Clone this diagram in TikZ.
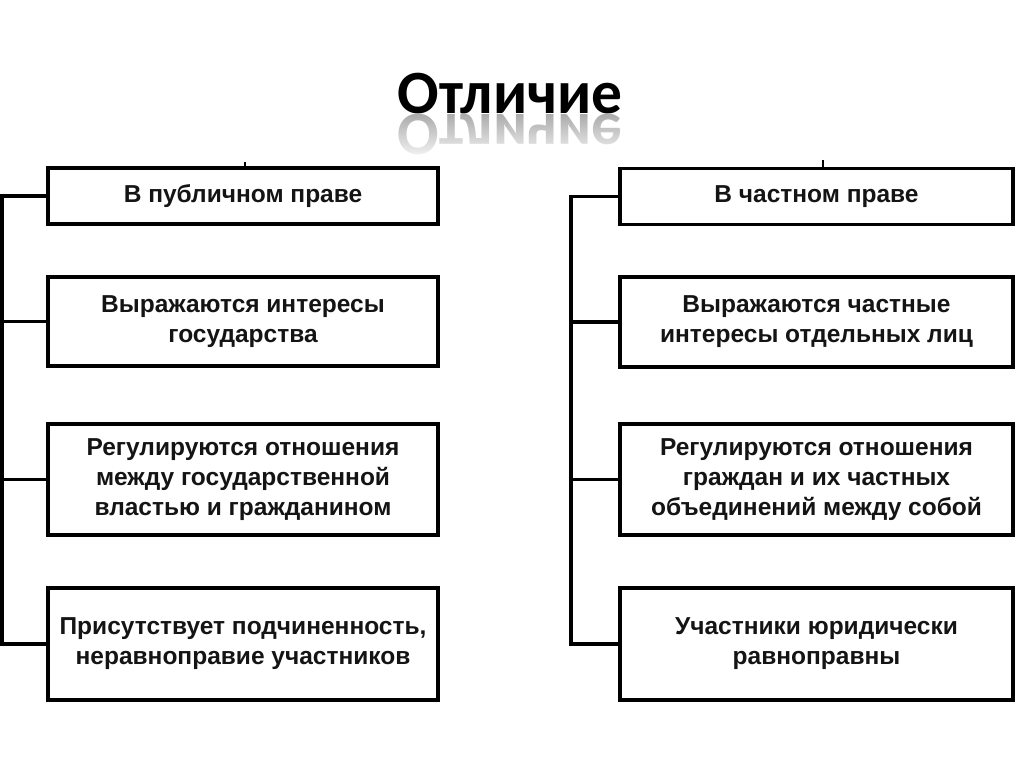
\documentclass[tikz,border=0pt]{standalone}
\usepackage{fontspec}
\setmainfont{Liberation Sans}
\newfontfamily\titlefont{Carlito}
\usetikzlibrary{fadings}
\tikzfading[name=reflfade, top color=transparent!100, middle color=transparent!0, bottom color=transparent!0]
\tikzset{
  box/.style={draw=black, line width=3.2pt, rectangle, align=center,
    font=\fontsize{24.5}{30}\selectfont\bfseries, text=black!92, inner sep=0pt},
  lbox/.style={box, minimum width=390pt},
  rbox/.style={box, minimum width=393pt},
  conn/.style={draw=black, line width=3.2pt},
}
\begin{document}
\begin{tikzpicture}[x=1pt,y=-1pt]
\useasboundingbox (0,0) rectangle (1024,767);
% title
\node[font=\titlefont\fontsize{61.5}{64}\selectfont\bfseries, anchor=base, inner sep=0pt] (title) at (510,114) {Отличие};
\node[font=\titlefont\fontsize{61.5}{64}\selectfont\bfseries, anchor=base, inner sep=0pt, yscale=-1, text=black!32] (titlerefl) at (510,115) {Отличие};
\fill[white, path fading=reflfade] (380,115) rectangle (650,163);
% left boxes
\node[lbox, minimum height=56pt] (l1) at (243,196) {В публичном праве};
\node[lbox, minimum height=89pt] (l2) at (243,321.5) {Выражаются интересы\\государства};
\node[lbox, minimum height=111pt] (l3) at (243,479.5) {Регулируются отношения\\между государственной\\властью и гражданином};
\node[lbox, minimum height=112pt] (l4) at (243,644) {Присутствует подчиненность,\\неравноправие участников};
% right boxes
\node[rbox, minimum height=56pt] (r1) at (816.5,196.5) {В частном праве};
\node[rbox, minimum height=90pt] (r2) at (816.5,322) {Выражаются частные\\интересы отдельных лиц};
\node[rbox, minimum height=111pt] (r3) at (816.5,479.5) {Регулируются отношения\\граждан и их частных\\объединений между собой};
\node[rbox, minimum height=112pt] (r4) at (816.5,644) {Участники юридически\\равноправны};
% spines
\coordinate (ls) at (2,0);
\coordinate (rs) at (571,0);
\draw[conn] (l1.west) -- (l1.west -| ls) -- (l4.west -| ls) -- (l4.west);
\draw[conn] (l2.west) -- (l2.west -| ls);
\draw[conn] (l3.west) -- (l3.west -| ls);
\draw[conn] (r1.west) -- (r1.west -| rs) -- (r4.west -| rs) -- (r4.west);
\draw[conn] (r2.west) -- (r2.west -| rs);
\draw[conn] (r3.west) -- (r3.west -| rs);
% small ticks above top boxes
\coordinate (lt) at (245,162);
\coordinate (rt) at (823,160);
\draw[line width=2.4pt] (lt) -- (lt |- l1.north);
\draw[line width=2.4pt] (rt) -- (rt |- r1.north);
\end{tikzpicture}
\end{document}
